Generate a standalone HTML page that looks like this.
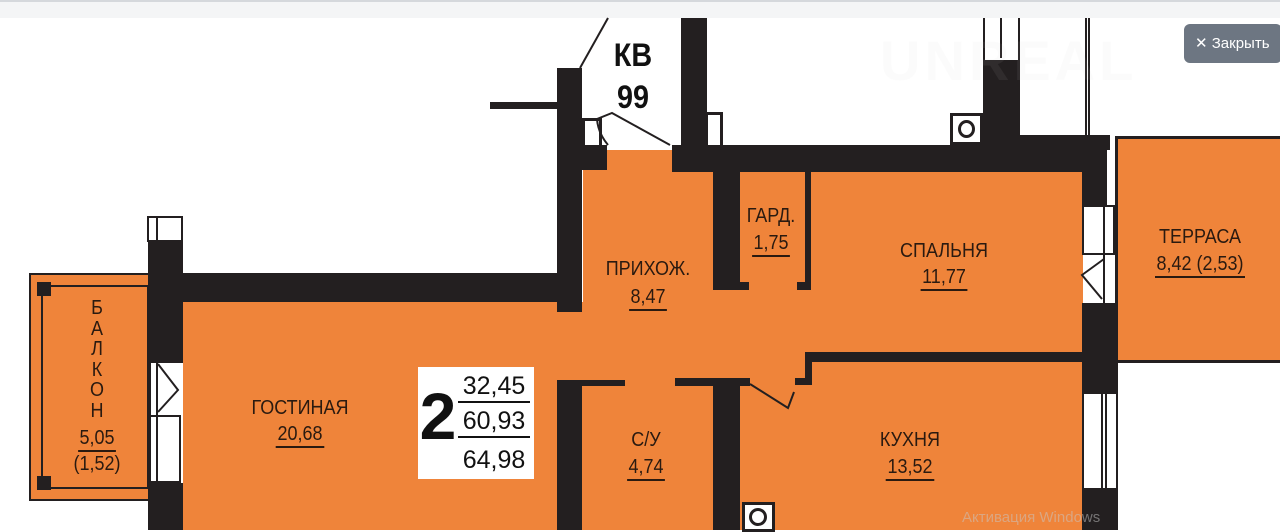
<!DOCTYPE html>
<html><head><meta charset="utf-8"><style>
body{margin:0;width:1280px;height:530px;overflow:hidden;background:#fff;position:relative;font-family:"Liberation Sans","Noto Sans CJK SC",sans-serif}
div{position:absolute;box-sizing:border-box}
.w{background:#231f20}
.o{background:#ef843a}
.t{color:#2a1a10;font-size:20px;text-align:center;line-height:1;white-space:nowrap;transform:scaleX(0.9)}
.u{border-bottom:2px solid #2a1a10;padding:0 2px 1px}
</style></head><body>
<div style="left:0;top:0;width:1280px;height:18px;background:#f4f5f6;border-top:2px solid #d5d8dc"></div>

<div class="o" style="left:183px;top:302px;width:400px;height:228px"></div>
<div class="o" style="left:583px;top:150px;width:500px;height:230px"></div>
<div class="o" style="left:583px;top:380px;width:500px;height:150px"></div>
<div class="o" style="left:1115px;top:136px;width:170px;height:227px;border:3px solid #231f20"></div>
<div class="o" style="left:29px;top:273px;width:122px;height:228px;border:2px solid #231f20"></div>
<div style="left:41px;top:285px;width:108px;height:204px;border:2px solid #231f20"></div>
<div class="w" style="left:37px;top:282px;width:14px;height:14px"></div>
<div class="w" style="left:37px;top:476px;width:14px;height:14px"></div>

<div class="w" style="left:148px;top:240px;width:35px;height:123px"></div>
<div style="left:147px;top:216px;width:36px;height:26px;border:2px solid #231f20;border-bottom:none"></div>
<div style="left:156px;top:216px;width:2px;height:26px;background:#231f20"></div>
<div style="left:147px;top:415px;width:34px;height:68px;border:2px solid #231f20"></div>
<div style="left:156px;top:363px;width:2px;height:120px;background:#231f20"></div>
<div class="w" style="left:148px;top:483px;width:35px;height:47px"></div>
<svg style="position:absolute;left:150px;top:360px" width="40" height="60"><path d="M8 4 L28 30 L8 52" fill="none" stroke="#231f20" stroke-width="2"/></svg>

<div class="w" style="left:148px;top:273px;width:434px;height:29px"></div>
<div class="w" style="left:557px;top:68px;width:25px;height:244px"></div>
<div class="w" style="left:490px;top:102px;width:67px;height:7px"></div>
<div style="left:582px;top:118px;width:20px;height:30px;border:3px solid #231f20"></div>
<div class="w" style="left:582px;top:145px;width:25px;height:25px"></div>
<svg style="position:absolute;left:570px;top:15px" width="120" height="140"><path d="M10 53 L38 3" stroke="#231f20" stroke-width="2" fill="none"/><path d="M38 130 Q28 118 27 104 L42 98 L100 130" stroke="#231f20" stroke-width="2" fill="none"/></svg>

<div class="w" style="left:681px;top:18px;width:26px;height:130px"></div>
<div style="left:705px;top:112px;width:18px;height:36px;border:3px solid #231f20"></div>
<div class="w" style="left:672px;top:145px;width:435px;height:27px"></div>
<div class="w" style="left:983px;top:60px;width:37px;height:90px"></div>
<div style="left:983px;top:18px;width:37px;height:44px;border:2px solid #231f20;border-top:none"></div>
<div style="left:1000px;top:18px;width:2px;height:40px;background:#231f20"></div>
<div class="w" style="left:1010px;top:135px;width:100px;height:15px"></div>
<div style="left:1085px;top:18px;width:5px;height:118px;border-left:2px solid #231f20;border-right:2px solid #231f20"></div>
<div style="left:950px;top:113px;width:33px;height:32px;border:3px solid #231f20;background:#fff"></div>
<div style="left:958px;top:120px;width:17px;height:18px;border:3px solid #231f20;border-radius:50%"></div>

<div class="w" style="left:1082px;top:170px;width:25px;height:36px"></div>
<div style="left:1082px;top:205px;width:33px;height:50px;border:2px solid #231f20"></div>
<div style="left:1103px;top:205px;width:2px;height:100px;background:#231f20"></div>
<svg style="position:absolute;left:1076px;top:255px" width="40" height="50"><path d="M28 4 L6 20 L26 44" fill="none" stroke="#231f20" stroke-width="2"/></svg>
<div class="w" style="left:1082px;top:303px;width:36px;height:89px"></div>
<div style="left:1082px;top:392px;width:36px;height:98px;border:2px solid #231f20;background:#fff"></div>
<div style="left:1101px;top:392px;width:6px;height:98px;border-left:2px solid #231f20;border-right:2px solid #231f20"></div>
<div class="w" style="left:1082px;top:490px;width:36px;height:40px"></div>

<div class="w" style="left:713px;top:170px;width:27px;height:120px"></div>
<div class="w" style="left:713px;top:282px;width:36px;height:8px"></div>
<div class="w" style="left:805px;top:170px;width:6px;height:120px"></div>
<div class="w" style="left:797px;top:282px;width:14px;height:8px"></div>

<div class="w" style="left:807px;top:352px;width:275px;height:10px"></div>
<div class="w" style="left:805px;top:352px;width:7px;height:32px"></div>
<div class="w" style="left:795px;top:378px;width:17px;height:7px"></div>
<div class="w" style="left:675px;top:378px;width:75px;height:8px"></div>
<div class="w" style="left:713px;top:378px;width:27px;height:152px"></div>
<svg style="position:absolute;left:745px;top:378px" width="60" height="40"><path d="M5 6 L43 30 L49 14" fill="none" stroke="#231f20" stroke-width="2"/></svg>
<div class="w" style="left:557px;top:380px;width:25px;height:150px"></div>
<div class="w" style="left:557px;top:380px;width:68px;height:6px"></div>
<div style="left:742px;top:502px;width:33px;height:30px;border:3px solid #231f20;background:#fff"></div>
<div style="left:749px;top:508px;width:18px;height:18px;border:3px solid #231f20;border-radius:50%"></div>

<div class="t" style="left:595px;top:39px;width:76px;font-size:32px;font-weight:bold;color:#111">КВ</div>
<div class="t" style="left:595px;top:81px;width:76px;font-size:32px;font-weight:bold;color:#111">99</div>
<div class="t" style="left:588px;top:259px;width:120px">ПРИХОЖ.</div>
<div class="t" style="left:588px;top:287px;width:120px"><span class="u">8,47</span></div>
<div class="t" style="left:735px;top:206px;width:72px">ГАРД.</div>
<div class="t" style="left:735px;top:233px;width:72px"><span class="u">1,75</span></div>
<div class="t" style="left:874px;top:241px;width:140px">СПАЛЬНЯ</div>
<div class="t" style="left:874px;top:267px;width:140px"><span class="u">11,77</span></div>
<div class="t" style="left:1125px;top:227px;width:150px">ТЕРРАСА</div>
<div class="t" style="left:1125px;top:254px;width:150px"><span class="u">8,42 (2,53)</span></div>
<div class="t" style="left:220px;top:398px;width:160px">ГОСТИНАЯ</div>
<div class="t" style="left:220px;top:424px;width:160px"><span class="u">20,68</span></div>
<div class="t" style="left:80px;top:298px;width:34px;line-height:20.5px;font-size:20px">Б<br>А<br>Л<br>К<br>О<br>Н</div>
<div class="t" style="left:60px;top:428px;width:74px"><span class="u">5,05</span></div>
<div class="t" style="left:60px;top:454px;width:74px">(1,52)</div>
<div class="t" style="left:596px;top:430px;width:100px">С/У</div>
<div class="t" style="left:596px;top:457px;width:100px"><span class="u">4,74</span></div>
<div class="t" style="left:840px;top:430px;width:140px">КУХНЯ</div>
<div class="t" style="left:840px;top:457px;width:140px"><span class="u">13,52</span></div>

<div style="left:418px;top:367px;width:116px;height:112px;background:#fff"></div>
<div style="left:418px;top:383px;width:40px;font-size:66px;font-weight:bold;color:#111;line-height:1;text-align:center">2</div>
<div style="left:458px;top:374px;width:72px;font-size:25px;line-height:1;color:#111;text-align:center;border-bottom:2px solid #111;padding-bottom:2px">32,45</div>
<div style="left:458px;top:409px;width:72px;font-size:25px;line-height:1;color:#111;text-align:center;border-bottom:2px solid #111;padding-bottom:2px">60,93</div>
<div style="left:458px;top:448px;width:72px;font-size:25px;line-height:1;color:#111;text-align:center">64,98</div>

<div style="left:880px;top:28px;font-size:56px;font-weight:bold;color:rgba(200,200,200,0.08);letter-spacing:4px">UNREAL</div>
<div style="left:962px;top:509px;font-size:15px;color:rgba(200,200,200,0.5)">Активация Windows</div>

<div style="left:1184px;top:24px;width:98px;height:39px;background:#6d7682;border-radius:6px;color:#fff;font-size:15px;line-height:39px;padding-left:11px">✕ Закрыть</div>
</body></html>
